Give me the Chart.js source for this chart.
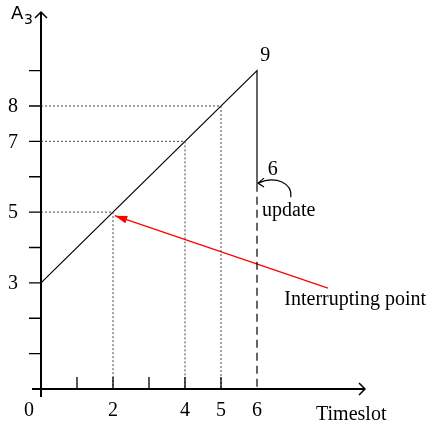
<!DOCTYPE html>
<html>
<head>
<meta charset="utf-8">
<script src="https://cdn.jsdelivr.net/npm/chart.js@4"></script>
<style>
  html, body { margin: 0; padding: 0; background: #fff; }
  #wrap { width: 429px; height: 426px; }
</style>
</head>
<body>
<div id="wrap"><canvas id="c"></canvas></div>
<script>
// --- data (timeslot on x, A3 on y) ---
const rampX = [0, 6, 6];
const rampY = [3, 9, 5.8];
const updateX = [6, 6];
const updateY = [5.8, 0];
const guideX = [2, 4, 5];
const guideY = [5, 7, 8];
const xTickLabels = [0, 2, 4, 5, 6];
const yTickLabels = [3, 5, 7, 8];
const xTickMarks = [1, 2, 3, 4, 5];
const yTickMarks = [1, 2, 3, 4, 5, 6, 7, 8, 9];
const interruptFrom = [7.97, 2.85];
const interruptTo = [2.05, 4.9];
const updateArrowFrom = [6.94, 5.42];
const updateArrowTo = [6.0, 5.82];

const SERIF = '"Liberation Serif", "Times New Roman", serif';

const toPts = (xs, ys) => xs.map((x, i) => ({ x, y: ys[i] }));

const datasets = [];
guideX.forEach((gx, i) => {
  datasets.push({
    data: [{ x: 0, y: guideY[i] }, { x: gx, y: guideY[i] }, { x: gx, y: 0 }],
    borderColor: '#444', borderWidth: 1, borderDash: [2, 2],
  });
});
datasets.push({ data: toPts(rampX, rampY), borderColor: '#000', borderWidth: 1.2 });
datasets.push({ data: toPts(updateX, updateY), borderColor: '#000', borderWidth: 1.2, borderDash: [8, 5] });
datasets.push({ data: toPts([interruptFrom[0], interruptTo[0]], [interruptFrom[1], interruptTo[1]]), borderColor: '#ff0000', borderWidth: 1.3 });

// axes, ticks, arrowheads and annotation text
const decor = {
  id: 'decor',
  afterDatasetsDraw(chart) {
    const { ctx, scales: { x, y } } = chart;
    const px = (v) => x.getPixelForValue(v);
    const py = (v) => y.getPixelForValue(v);
    const x0 = px(0), y0 = py(0);
    ctx.save();
    ctx.strokeStyle = '#000';
    ctx.fillStyle = '#000';

    // axis lines
    ctx.lineWidth = 2;
    ctx.beginPath();
    ctx.moveTo(x0 - 9, y0); ctx.lineTo(px(9), y0);
    ctx.moveTo(x0, y0 + 8); ctx.lineTo(x0, py(10.6) - 2);
    ctx.stroke();
    // open arrow tips
    ctx.lineWidth = 1.5;
    ctx.beginPath();
    ctx.moveTo(px(9) - 6, y0 - 6); ctx.lineTo(px(9), y0); ctx.lineTo(px(9) - 6, y0 + 6);
    ctx.moveTo(x0 - 6, py(10.6) + 4); ctx.lineTo(x0, py(10.6) - 2); ctx.lineTo(x0 + 6, py(10.6) + 4);
    ctx.stroke();

    // tick marks
    ctx.lineWidth = 1.3;
    ctx.beginPath();
    xTickMarks.forEach((v) => { ctx.moveTo(px(v), y0); ctx.lineTo(px(v), y0 - 12); });
    yTickMarks.forEach((v) => { ctx.moveTo(x0 - 12, py(v)); ctx.lineTo(x0, py(v)); });
    ctx.stroke();

    // tick labels
    ctx.font = '20px ' + SERIF;
    ctx.textBaseline = 'middle';
    ctx.textAlign = 'center';
    xTickLabels.forEach((v) => ctx.fillText(String(v), v === 0 ? x0 - 12 : px(v), y0 + 22));
    yTickLabels.forEach((v) => ctx.fillText(String(v), x0 - 28, py(v) + 1));

    // axis titles
    ctx.textAlign = 'left';
    ctx.fillText('Timeslot', px(7.64), py(-0.72));
    ctx.font = '18px "DejaVu Sans", sans-serif';
    ctx.fillText('A', 11, py(10.6) + 0);
    ctx.font = '14px "DejaVu Sans", sans-serif';
    ctx.fillText('3', 24, py(10.6) + 6);

    // annotations
    ctx.font = '20px ' + SERIF;
    ctx.fillText('9', px(6.09), py(9.43));
    ctx.fillText('6', px(6.3), py(6.19));
    ctx.fillText('update', px(6.14), py(5.03));
    ctx.fillText('Interrupting point', px(6.76), py(2.51));

    // curved update arrow
    const ax = px(updateArrowFrom[0]), ay = py(updateArrowFrom[1]);
    const bx = px(updateArrowTo[0]) + 1, by = py(updateArrowTo[1]);
    ctx.lineWidth = 1.2;
    ctx.beginPath();
    ctx.moveTo(ax, ay);
    ctx.bezierCurveTo(ax + 2, ay - 14, bx + 18, by - 8, bx, by);
    ctx.moveTo(bx + 6, by - 5); ctx.lineTo(bx, by); ctx.lineTo(bx + 6, by + 4);
    ctx.stroke();

    // red arrow head
    const hx = px(interruptTo[0]), hy = py(interruptTo[1]);
    const ang = Math.atan2(py(interruptFrom[1]) - hy, px(interruptFrom[0]) - hx);
    ctx.fillStyle = '#ff0000';
    ctx.beginPath();
    ctx.moveTo(hx, hy);
    ctx.lineTo(hx + 13 * Math.cos(ang - 0.3), hy + 13 * Math.sin(ang - 0.3));
    ctx.lineTo(hx + 13 * Math.cos(ang + 0.3), hy + 13 * Math.sin(ang + 0.3));
    ctx.closePath();
    ctx.fill();
    ctx.restore();
  },
};

new Chart(document.getElementById('c'), {
  type: 'scatter',
  data: { datasets },
  options: {
    responsive: true,
    maintainAspectRatio: false,
    animation: false,
    layout: { padding: { left: 41, right: 64, top: 14, bottom: 37 } },
    datasets: { scatter: { showLine: true, pointRadius: 0, fill: false, clip: false } },
    plugins: { legend: { display: false }, tooltip: { enabled: false } },
    scales: {
      x: { type: 'linear', min: 0, max: 9, display: false },
      y: { type: 'linear', min: 0, max: 10.6, display: false },
    },
  },
  plugins: [decor],
});
</script>
</body>
</html>
